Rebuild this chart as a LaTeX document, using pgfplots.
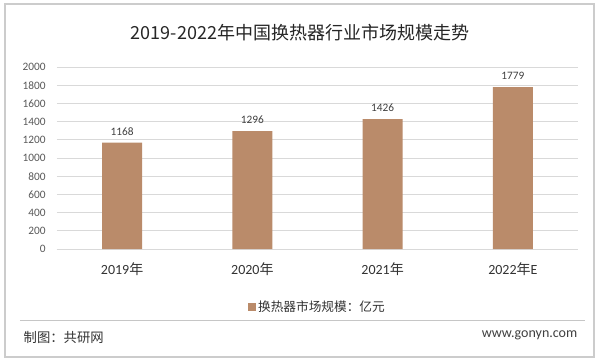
\documentclass[border=0pt]{standalone}
\usepackage{fontspec}
\setmainfont{Carlito}
\newfontfamily\cjk{Noto Sans CJK SC}
\usepackage{pgfplots}
\pgfplotsset{compat=1.18}
\definecolor{barc}{HTML}{BA8B6A}
\definecolor{gridc}{HTML}{D9D9D9}
\definecolor{txt}{HTML}{595959}
\begin{document}
\begin{tikzpicture}[x=0.75pt,y=-0.75pt]
% pixel coordinates with origin at plot-area lower-left (57,249)
\useasboundingbox (-57,-249) rectangle (543,115);
\fill[white] (-57,-249) rectangle (543,115);
\draw[gray!40, line width=0.8pt] (-52,-245) rectangle (537,108);
\draw[gray!45, line width=0.6pt] (-37,71) -- (528,71);
\node[anchor=west, font=\cjk\fontsize{10}{12}\selectfont, text=black!80] at (-38,88) {制图：共研网};
\node[anchor=east, font=\fontsize{10.5}{12}\selectfont, text=black!75] at (525,86) {www.gonyn.com};
\node[font=\cjk\fontsize{13.5}{16}\selectfont, text=black!85] at (243,-216) {2019-2022年中国换热器行业市场规模走势};
\begin{axis}[
  at={(0,0)}, anchor=south west,
  scale only axis, width=390.75pt, height=136.5pt,
  xmin=-0.5, xmax=3.5, ymin=0, ymax=2000,
  ytick={0,200,...,2000},
  xtick=data,
  xticklabels={2019{\cjk 年},2020{\cjk 年},2021{\cjk 年},2022{\cjk 年}E},
  /pgf/number format/assume math mode=true,
  /pgf/number format/.cd, 1000 sep={}, /pgfplots/.cd,
  major tick length=0pt,
  ymajorgrids, grid style={gridc, line width=0.6pt},
  axis x line*=bottom,
  x axis line style={gridc, line width=0.6pt},
  y axis line style={draw=none},
  yticklabel style={font=\fontsize{8.5}{10}\selectfont, text=txt, xshift=-5pt},
  xticklabel style={font=\fontsize{10.5}{12}\selectfont, text=black!80, yshift=-7pt},
  tick style={draw=none},
  nodes near coords,
  every node near coord/.append style={font=\fontsize{8.5}{10}\selectfont, text=black!75, yshift=2pt},
  legend style={at={(0.5,-0.32)}, anchor=center, draw=none, font=\cjk\fontsize{9.5}{11}\selectfont, text=black!80},
  legend image code/.code={\fill[barc] (0pt,-3pt) rectangle (6pt,3pt);},
]
\addplot[ybar, bar width=30pt, fill=barc, draw=none] coordinates {(0,1168) (1,1296) (2,1426) (3,1779)};
\addlegendentry{换热器市场规模：亿元}
\end{axis}
\end{tikzpicture}
\end{document}
